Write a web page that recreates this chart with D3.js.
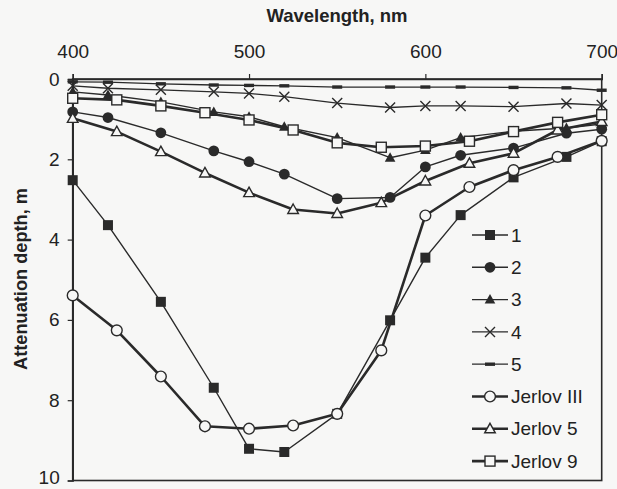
<!DOCTYPE html>
<html>
<head>
<meta charset="utf-8">
<script src="https://cdn.jsdelivr.net/npm/d3@7"></script>
<style>
  body { margin: 0; background: #f7f7f6; }
  text { font-family: "Liberation Sans", Arial, sans-serif; fill: #222; }
</style>
</head>
<body>
<div id="chart"></div>
<script>
// wavelengths of the measured stations (1-5) and of the Jerlov water types
const measuredWl = [400, 420, 450, 480, 500, 520, 550, 580, 600, 620, 650, 680, 700];
const jerlovWl = [400, 425, 450, 475, 500, 525, 550, 575, 600, 625, 650, 675, 700];

// attenuation depth, m
const s1 = [2.52, 3.64, 5.55, 7.69, 9.21, 9.29, 8.34, 6.01, 4.45, 3.39, 2.45, 1.94, 1.55];
const s2 = [0.82, 0.96, 1.34, 1.79, 2.06, 2.37, 2.98, 2.95, 2.19, 1.90, 1.72, 1.35, 1.25];
const s3 = [0.32, 0.40, 0.57, 0.82, 0.94, 1.19, 1.46, 1.96, 1.77, 1.46, 1.30, 1.22, 1.12];
const s4 = [0.17, 0.23, 0.27, 0.32, 0.36, 0.44, 0.60, 0.71, 0.67, 0.67, 0.69, 0.61, 0.65];
const s5 = [0.07, 0.08, 0.12, 0.15, 0.16, 0.17, 0.20, 0.20, 0.20, 0.20, 0.21, 0.22, 0.28];
const jerlovIII = [5.39, 6.26, 7.41, 8.65, 8.71, 8.63, 8.34, 6.76, 3.40, 2.69, 2.27, 1.94, 1.54];
const jerlov5 = [0.98, 1.31, 1.81, 2.34, 2.83, 3.25, 3.35, 3.08, 2.54, 2.10, 1.85, 1.27, 1.06];
const jerlov9 = [0.48, 0.52, 0.67, 0.84, 1.02, 1.27, 1.59, 1.70, 1.67, 1.55, 1.31, 1.08, 0.89];

const seriesNames = ['1', '2', '3', '4', '5', 'Jerlov III', 'Jerlov 5', 'Jerlov 9'];
const xTicks = [400, 500, 600, 700];
const yTicks = [0, 2, 4, 6, 8, 10];

const WIDTH = 617;
const HEIGHT = 489;
const INK = '#2a2a2a';
const BG = '#f7f7f6';

const series = [
    { name: seriesNames[0], wl: measuredWl, v: s1, marker: 'square', width: 1.4 },
    { name: seriesNames[1], wl: measuredWl, v: s2, marker: 'circle', width: 1.4 },
    { name: seriesNames[2], wl: measuredWl, v: s3, marker: 'triangle', width: 1.4 },
    { name: seriesNames[3], wl: measuredWl, v: s4, marker: 'cross', width: 1.3 },
    { name: seriesNames[4], wl: measuredWl, v: s5, marker: 'dash', width: 1.3 },
    { name: seriesNames[5], wl: jerlovWl, v: jerlovIII, marker: 'ocircle', width: 2.6 },
    { name: seriesNames[6], wl: jerlovWl, v: jerlov5, marker: 'otriangle', width: 2.6 },
    { name: seriesNames[7], wl: jerlovWl, v: jerlov9, marker: 'osquare', width: 2.6 }
];

const svg = d3.select('#chart')
    .append('svg')
    .attr('width', WIDTH)
    .attr('height', HEIGHT);

svg.append('rect')
    .attr('width', WIDTH)
    .attr('height', HEIGHT)
    .attr('fill', BG);

// Scales
const xScale = d3.scaleLinear()
    .domain([400, 700])
    .range([72.7, 601.7]);

const yScale = d3.scaleLinear()
    .domain([0, 10])
    .range([79, 480.5]);

// Frame
svg.append('rect')
    .attr('x', xScale(400))
    .attr('y', yScale(0))
    .attr('width', xScale(700) - xScale(400))
    .attr('height', yScale(10) - yScale(0))
    .attr('fill', 'none')
    .attr('stroke', INK)
    .attr('stroke-width', 1.6);

// Axes
const xAxis = d3.axisTop(xScale)
    .tickValues(xTicks)
    .tickSize(5)
    .tickPadding(16)
    .tickFormat(d3.format('d'));
svg.append('g')
    .attr('class', 'x-axis')
    .attr('transform', `translate(0, ${yScale(0)})`)
    .call(xAxis);

const yAxis = d3.axisLeft(yScale)
    .tickValues(yTicks)
    .tickSize(5)
    .tickPadding(8)
    .tickFormat(d3.format('d'));
svg.append('g')
    .attr('class', 'y-axis')
    .attr('transform', `translate(${xScale(400)}, 0)`)
    .call(yAxis);

svg.selectAll('.x-axis, .y-axis').select('.domain')
    .attr('stroke', INK)
    .attr('stroke-width', 1.6);
svg.selectAll('.tick line')
    .attr('stroke', INK)
    .attr('stroke-width', 1.2);
svg.selectAll('.tick text')
    .attr('font-size', 19)
    .attr('fill', '#222');
// keep the bottom label inside the picture
svg.selectAll('.y-axis .tick text')
    .filter(d => d === 10)
    .attr('dy', '0.18em');

// Axis titles
svg.append('text')
    .attr('x', 337)
    .attr('y', 22)
    .attr('text-anchor', 'middle')
    .attr('font-size', 18.5)
    .attr('font-weight', 'bold')
    .text('Wavelength, nm');

svg.append('text')
    .attr('transform', 'translate(27, 279) rotate(-90)')
    .attr('text-anchor', 'middle')
    .attr('font-size', 18.2)
    .attr('font-weight', 'bold')
    .text('Attenuation depth, m');

// Markers
function drawMarker(g, type, x, y) {
    if (type === 'square') {
        g.append('rect').attr('x', x - 5).attr('y', y - 5).attr('width', 10).attr('height', 10)
            .attr('fill', INK);
    } else if (type === 'osquare') {
        g.append('rect').attr('x', x - 5).attr('y', y - 5).attr('width', 10).attr('height', 10)
            .attr('fill', BG).attr('stroke', INK).attr('stroke-width', 1.4);
    } else if (type === 'circle') {
        g.append('circle').attr('cx', x).attr('cy', y).attr('r', 5.4).attr('fill', INK);
    } else if (type === 'ocircle') {
        g.append('circle').attr('cx', x).attr('cy', y).attr('r', 5.4)
            .attr('fill', BG).attr('stroke', INK).attr('stroke-width', 1.4);
    } else if (type === 'triangle' || type === 'otriangle') {
        const t = g.append('path')
            .attr('d', `M${x},${y - 5.5}L${x + 5.3},${y + 4}L${x - 5.3},${y + 4}Z`);
        if (type === 'triangle') t.attr('fill', INK);
        else t.attr('fill', BG).attr('stroke', INK).attr('stroke-width', 1.4);
    } else if (type === 'cross') {
        g.append('path')
            .attr('d', `M${x - 5},${y - 5}L${x + 5},${y + 5}M${x - 5},${y + 5}L${x + 5},${y - 5}`)
            .attr('stroke', INK).attr('stroke-width', 1.4).attr('fill', 'none');
    } else if (type === 'dash') {
        g.append('rect').attr('x', x - 5).attr('y', y - 1.7).attr('width', 10).attr('height', 3.4)
            .attr('fill', INK);
    }
}

const line = d3.line()
    .x(d => xScale(d[0]))
    .y(d => yScale(d[1]));

// Create Lines and Points
series.forEach(s => {
    const pts = s.wl.map((w, i) => [w, s.v[i]]);
    const g = svg.append('g').attr('class', 'series');
    g.append('path')
        .datum(pts)
        .attr('d', line)
        .attr('fill', 'none')
        .attr('stroke', INK)
        .attr('stroke-width', s.width)
        .attr('stroke-linejoin', 'round');
    pts.forEach(p => drawMarker(g, s.marker, xScale(p[0]), yScale(p[1])));
});

// Legend
const legend = svg.append('g').attr('class', 'legend');
series.forEach((s, i) => {
    const y = 235 + i * 32.3;
    legend.append('line')
        .attr('x1', 472).attr('x2', 508)
        .attr('y1', y).attr('y2', y)
        .attr('stroke', INK)
        .attr('stroke-width', s.width);
    drawMarker(legend, s.marker, 490, y);
    legend.append('text')
        .attr('x', 511)
        .attr('y', y)
        .attr('dy', '0.35em')
        .attr('font-size', 19)
        .text(s.name);
});
</script>
</body>
</html>
